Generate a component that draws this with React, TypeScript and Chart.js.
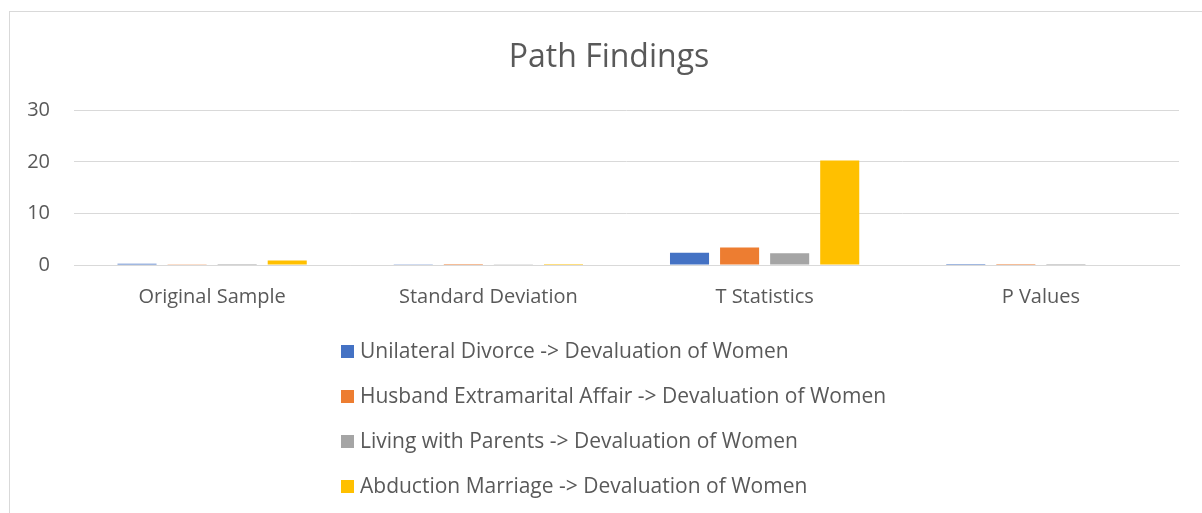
import React, { useEffect, useRef } from "react";
import { Chart, registerables } from "chart.js";

Chart.register(...registerables);

const categories = ["Original Sample", "Standard Deviation", "T Statistics", "P Values"];
const seriesNames = [
  "Unilateral Divorce -> Devaluation of Women",
  "Husband Extramarital Affair -> Devaluation of Women",
  "Living with Parents -> Devaluation of Women",
  "Abduction Marriage -> Devaluation of Women",
];
const unilateralDivorce = [0.25, 0.03, 2.38, 0.017];
const husbandAffair = [0.04, 0.02, 3.42, 0.001];
const livingWithParents = [0.2, 0.03, 2.26, 0.024];
const abductionMarriage = [0.85, 0.02, 20.3, 0.0];
const seriesColors = ["#4472C4", "#ED7D31", "#A5A5A5", "#FFC000"];
const yTicks = [0, 10, 20, 30];

const FONT = "'Open Sans', sans-serif";
const TEXT = "#595959";

const legendPlugin = {
  id: "verticalLegend",
  afterDraw(chart: any) {
    const ctx = chart.ctx;
    ctx.save();
    ctx.font = `21px ${FONT}`;
    ctx.textBaseline = "middle";
    ctx.textAlign = "left";
    chart.data.datasets.forEach((ds: any, i: number) => {
      const y = 340 + i * 45;
      ctx.fillStyle = ds.backgroundColor;
      ctx.fillRect(331, y - 7, 13, 13);
      ctx.fillStyle = TEXT;
      ctx.fillText(ds.label, 350, y);
    });
    ctx.restore();
  },
};

export default function App() {
  const ref = useRef<HTMLCanvasElement | null>(null);
  useEffect(() => {
    if (!ref.current) return;
    const values = [unilateralDivorce, husbandAffair, livingWithParents, abductionMarriage];
    const chart = new Chart(ref.current, {
      type: "bar",
      data: {
        labels: categories,
        datasets: seriesNames.map((name, i) => ({
          label: name,
          data: values[i],
          backgroundColor: seriesColors[i],
          categoryPercentage: 0.725,
          barPercentage: 0.78,
          yAxisID: "y",
        })),
      },
      plugins: [legendPlugin],
      options: {
        responsive: false,
        animation: false,
        layout: { padding: { left: 6, right: 0, top: 0, bottom: 0 } },
        plugins: {
          legend: { display: false },
          tooltip: { enabled: false },
          title: {
            display: true,
            text: "Path Findings",
            color: TEXT,
            font: { family: FONT, size: 32, weight: "normal" },
            padding: { top: 27, bottom: 33 },
          },
        },
        scales: {
          x: {
            grid: { display: false, drawTicks: false },
            border: { display: true, color: "#d9d9d9", width: 1 },
            ticks: { color: TEXT, font: { family: FONT, size: 20 }, padding: 20 },
            afterFit(scale: any) {
              scale.height = 248;
            },
          },
          y: {
            min: 0,
            max: 30,
            afterBuildTicks(scale: any) {
              scale.ticks = yTicks.map((v) => ({ value: v }));
            },
            grid: { color: "#d9d9d9", drawTicks: false, lineWidth: 1 },
            border: { display: false },
            ticks: { color: TEXT, font: { family: FONT, size: 20 }, padding: 24 },
            afterFit(scale: any) {
              scale.width = 58;
            },
          },
          yRight: {
            type: "linear",
            position: "right",
            min: 0,
            max: 30,
            grid: { display: false, drawTicks: false },
            border: { display: false },
            ticks: { display: false },
            afterFit(scale: any) {
              scale.width = 23;
            },
          },
        },
      },
    });
    return () => chart.destroy();
  }, []);

  return (
    <div
      style={{
        position: "absolute",
        left: 9,
        top: 11,
        width: 1200,
        height: 510,
        borderLeft: "1px solid #d9d9d9",
        borderTop: "1px solid #d9d9d9",
        background: "#fff",
      }}
    >
      <canvas ref={ref} width={1192} height={501} style={{ display: "block" }} />
    </div>
  );
}
